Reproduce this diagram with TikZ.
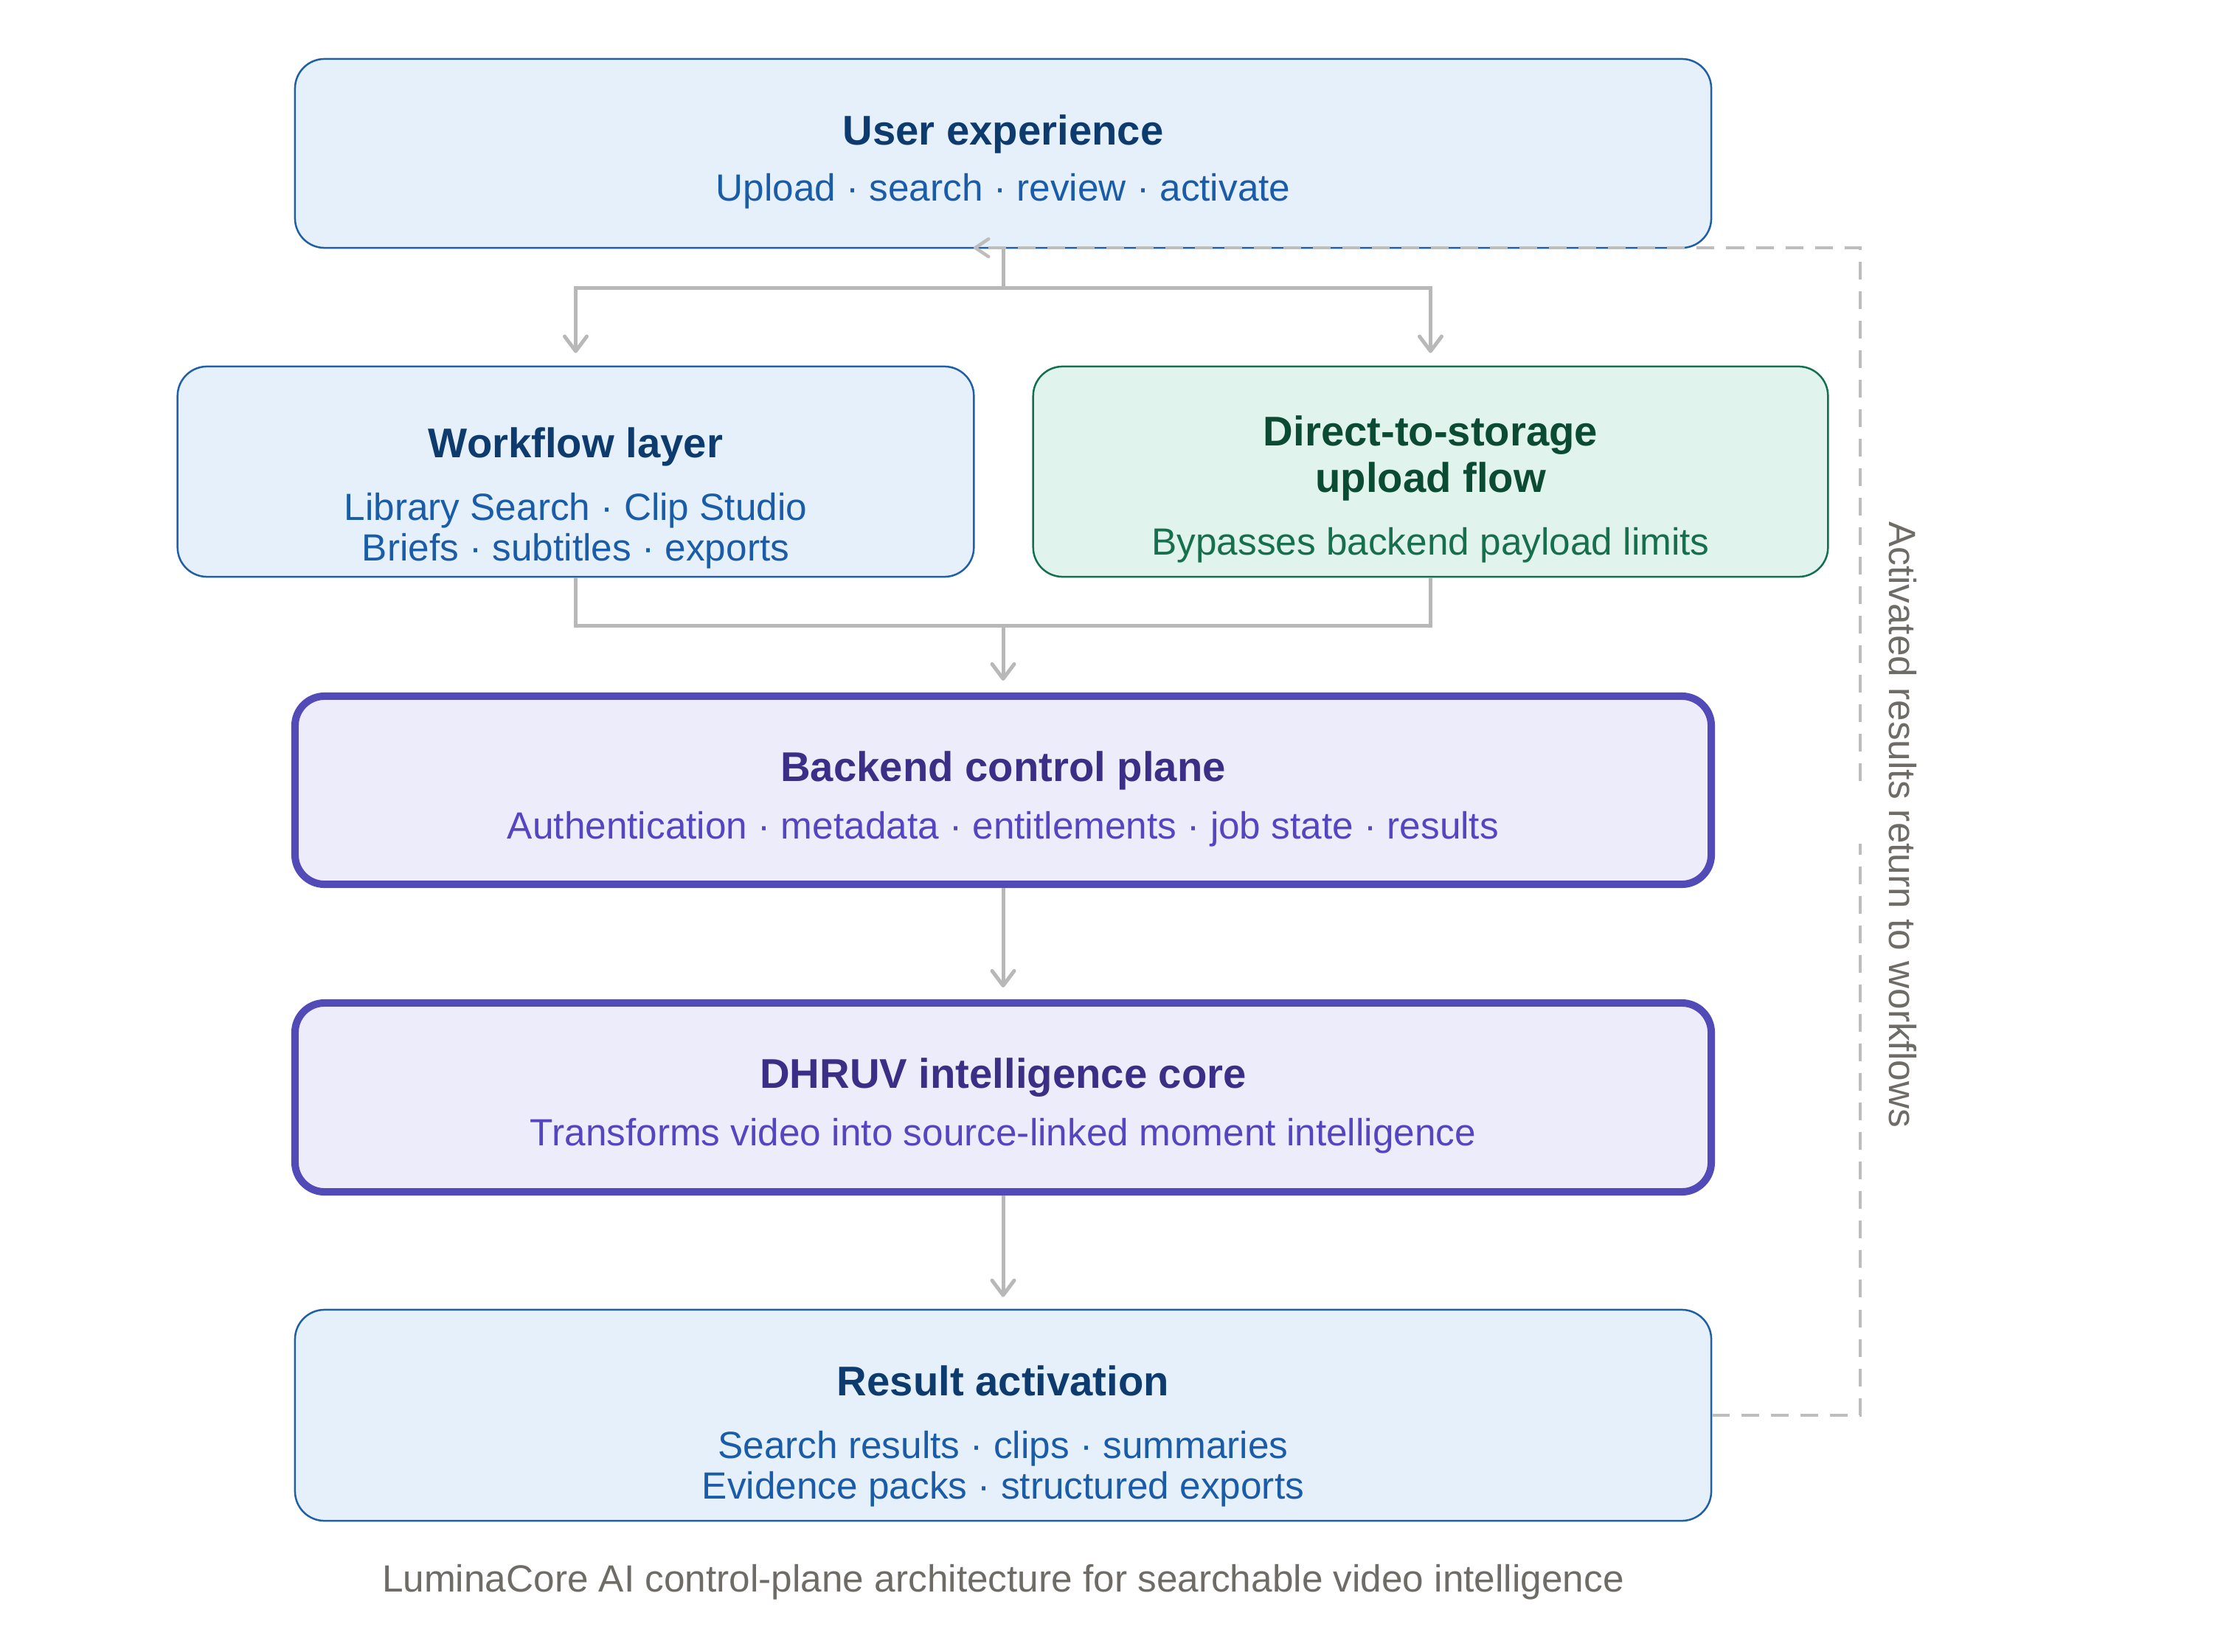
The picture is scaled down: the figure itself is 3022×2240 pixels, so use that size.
\documentclass[tikz,border=0pt]{standalone}
\usepackage{fontspec}
\setmainfont{Liberation Sans}
\usetikzlibrary{arrows.meta,calc}
\definecolor{bluefill}{HTML}{E6F0FA}
\definecolor{blueline}{HTML}{1F5FA8}
\definecolor{bluetitle}{HTML}{0D3B6E}
\definecolor{bluesub}{HTML}{1A5CA8}
\definecolor{greenfill}{HTML}{E0F3EC}
\definecolor{greenline}{HTML}{12704E}
\definecolor{greentitle}{HTML}{0B4B33}
\definecolor{greensub}{HTML}{17704D}
\definecolor{purpfill}{HTML}{EDECFB}
\definecolor{purpline}{HTML}{524AB6}
\definecolor{purptitle}{HTML}{3A2E86}
\definecolor{purpsub}{HTML}{5446C0}
\definecolor{connc}{HTML}{B8B8B8}
\definecolor{dashc}{HTML}{BDBDBD}
\definecolor{capc}{HTML}{6F6C67}
\begin{document}
\begin{tikzpicture}[x=0.01cm,y=-0.01cm,
  box/.style={rounded corners=0.4cm, inner sep=0pt},
  bluebox/.style={box, draw=blueline, fill=bluefill, line width=0.025cm},
  greenbox/.style={box, draw=greenline, fill=greenfill, line width=0.025cm},
  purpbox/.style={box, draw=purpline, fill=purpfill, line width=0.10cm},
  ttl/.style={anchor=base, inner sep=0pt, font=\fontsize{16}{19}\selectfont\bfseries},
  sub/.style={anchor=base, inner sep=0pt, font=\fontsize{14.6}{17}\selectfont},
  conn/.style={draw=connc, line width=0.05cm},
  arr/.style={conn, -{Straight Barb[length=0.2cm,width=0.3cm,round]}},
  fbline/.style={draw=dashc, line width=0.045cm, dash pattern=on 0.24cm off 0.16cm,
    -{Straight Barb[length=0.18cm,width=0.24cm,round]}},
]
\useasboundingbox (0,0) rectangle (3022,2240);

% boxes
\node[bluebox, minimum width=19.19cm, minimum height=2.56cm] (ux) at (1360,208) {};
\node[bluebox, minimum width=10.79cm, minimum height=2.85cm] (wf) at (780.5,639.5) {};
\node[greenbox, minimum width=10.77cm, minimum height=2.85cm] (ds) at (1939.5,639.5) {};
\node[purpbox, minimum width=19.19cm, minimum height=2.55cm] (be) at (1360,1071.5) {};
\node[purpbox, minimum width=19.19cm, minimum height=2.56cm] (dh) at (1360,1488) {};
\node[bluebox, minimum width=19.19cm, minimum height=2.86cm] (ra) at (1360,1919) {};

% texts
\node[ttl, text=bluetitle] (uxT) at (1360,197) {User experience};
\node[sub, text=bluesub] (uxS) at (1360,273) {Upload · search · review · activate};

\node[ttl, text=bluetitle] (wfT) at (780.5,620) {Workflow layer};
\node[sub, text=bluesub] (wfS1) at (780.5,705) {Library Search · Clip Studio};
\node[sub, text=bluesub] (wfS2) at (780.5,760) {Briefs · subtitles · exports};

\node[ttl, text=greentitle] (dsT1) at (1939.5,604) {Direct-to-storage};
\node[ttl, text=greentitle] (dsT2) at (1939.5,667) {upload flow};
\node[sub, text=greensub] (dsS) at (1939.5,752) {Bypasses backend payload limits};

\node[ttl, text=purptitle] (beT) at (1360,1059) {Backend control plane};
\node[sub, text=purpsub] (beS) at (1360,1137) {Authentication · metadata · entitlements · job state · results};

\node[ttl, text=purptitle] (dhT) at (1360,1475) {DHRUV intelligence core};
\node[sub, text=purpsub] (dhS) at (1360,1553) {Transforms video into source-linked moment intelligence};

\node[ttl, text=bluetitle] (raT) at (1360,1892) {Result activation};
\node[sub, text=bluesub] (raS1) at (1360,1977) {Search results · clips · summaries};
\node[sub, text=bluesub] (raS2) at (1360,2032) {Evidence packs · structured exports};

\node[sub, text=capc] (cap) at (1360,2158) {LuminaCore AI control-plane architecture for searchable video intelligence};

% connectors
\coordinate (j1) at (1360,391);
\draw[conn] (ux.south) -- (j1);
\draw[arr, shorten >=0.17cm] (j1) -| (wf.north);
\draw[arr, shorten >=0.17cm] (j1) -| (ds.north);

\coordinate (j2) at (1360,848);
\draw[conn] (wf.south) |- (j2);
\draw[conn] (ds.south) |- (j2);
\draw[arr, shorten >=0.16cm] (j2) -- (be.north);

\draw[arr, shorten >=0.16cm] (be.south) -- (dh.north);
\draw[arr, shorten >=0.16cm] (dh.south) -- (ra.north);

% feedback dashed
\coordinate (c1) at (2522,1919);
\coordinate (g1) at (2522,1144);
\coordinate (g2) at (2522,1059);
\coordinate (c2) at (2522,336);
\coordinate (fb) at (1320,336);
\draw[fbline] (ra.east) -- (c1) -- (g1) (g2) -- (c2) -- (fb);

\node[rotate=-90, inner sep=0pt, font=\fontsize{14.6}{17}\selectfont, text=capc] (lbl) at (2580,1118) {Activated results return to workflows};
\end{tikzpicture}
\end{document}
